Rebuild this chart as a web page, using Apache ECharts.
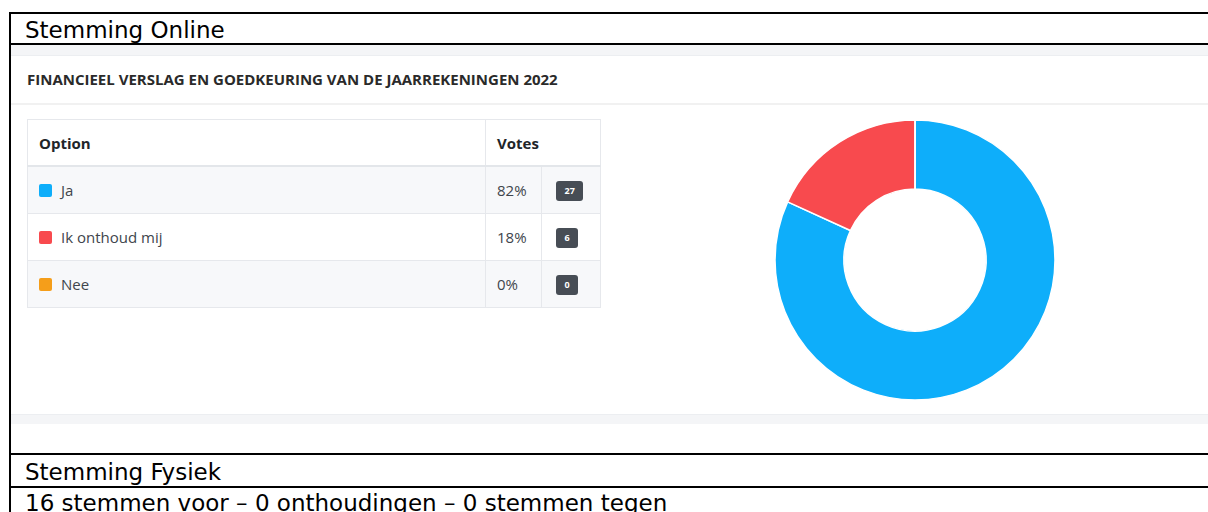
<!DOCTYPE html>
<html>
<head>
<meta charset="utf-8">
<script src="https://cdn.jsdelivr.net/npm/echarts@6/dist/echarts.min.js"></script>
<style>
  html, body { margin: 0; padding: 0; background: #fff; }
  body { width: 1208px; height: 512px; position: relative; overflow: hidden; }
  .doc { position: absolute; font-family: "DejaVu Sans", sans-serif; font-size: 23px; color: #000; white-space: nowrap; }
  .hline { position: absolute; left: 10px; right: 0; background: #000; }
  .vline { position: absolute; left: 9px; width: 2px; background: #000; }
  .strip { position: absolute; left: 11px; right: 0; background: #f4f5f7; }
  #title { position: absolute; left: 27px; top: 69px; font-family: "Open Sans", sans-serif; font-weight: 700;
           font-size: 15px; color: #2a2a2a; white-space: nowrap; }
  table { position: absolute; left: 27px; top: 119px; border-collapse: collapse; table-layout: fixed; width: 573px;
          font-family: "Open Sans", sans-serif; font-size: 15px; color: #40454c; }
  td, th { border: 1px solid #e6e8ec; padding: 0 0 0 11px; text-align: left; }
  th { height: 45px; font-weight: 700; color: #212529; border-bottom: 2px solid #e3e6ea; }
  td { height: 46px; }
  tr.odd td { background: #f7f8fa; }
  .sw { display: inline-block; width: 13px; height: 13px; border-radius: 2px; margin-right: 9px; vertical-align: -1px; }
  .badge { display: inline-block; background: #474d55; color: #fff; font-size: 9px; font-weight: 700;
           border-radius: 3px; height: 20px; line-height: 20px; padding: 0 8.5px; margin-left: 3px; vertical-align: middle; }
  #chart { position: absolute; left: 760px; top: 110px; width: 310px; height: 300px; }
</style>
</head>
<body>
  <div class="hline" style="top:12px;height:2px;"></div>
  <div class="vline" style="top:12px;height:500px;"></div>
  <div class="doc" style="left:25px;top:17px;">Stemming Online</div>
  <div class="hline" style="top:43px;height:2px;"></div>
  <div class="strip" style="top:45px;height:10px;border-bottom:1px solid #eceef1;"></div>
  <div id="title"></div>
  <div class="strip" style="top:103px;height:2px;background:#f1f1f1;"></div>
  <table id="tbl"></table>
  <div id="chart"></div>
  <div class="strip" style="top:414px;height:9px;border-top:1px solid #eceef1;"></div>
  <div class="hline" style="top:453px;height:2px;"></div>
  <div class="doc" style="left:25px;top:459px;">Stemming Fysiek</div>
  <div class="hline" style="top:486px;height:2px;"></div>
  <div class="doc" style="left:25px;top:490px;" id="fysiek"></div>

<script>
const pollTitle = 'FINANCIEEL VERSLAG EN GOEDKEURING VAN DE JAARREKENINGEN 2022';
const options = ['Ja', 'Ik onthoud mij', 'Nee'];
const votes = [27, 6, 0];
const percentLabels = ['82%', '18%', '0%'];
const colors = ['#0eaefa', '#f84a4e', '#f59e1a'];
const fysiekText = '16 stemmen voor \u2013 0 onthoudingen \u2013 0 stemmen tegen';

document.getElementById('title').textContent = pollTitle;
document.getElementById('fysiek').textContent = fysiekText;

// tabel met opties en stemmen
let html = '<colgroup><col style="width:458px"><col style="width:56px"><col style="width:59px"></colgroup>' +
  '<tr><th>Option</th><th colspan="2">Votes</th></tr>';
options.forEach((name, i) => {
  html += '<tr class="' + (i % 2 === 0 ? 'odd' : '') + '">' +
    '<td><span class="sw" style="background:' + colors[i] + '"></span>' + name + '</td>' +
    '<td>' + percentLabels[i] + '</td>' +
    '<td><span class="badge">' + votes[i] + '</span></td></tr>';
});
document.getElementById('tbl').innerHTML = html;

const chart = echarts.init(document.getElementById('chart'), null, { renderer: 'canvas' });
chart.setOption({
  animation: false,
  series: [{
    type: 'pie',
    center: [155, 150],
    radius: [71, 140],
    startAngle: 90,
    clockwise: true,
    label: { show: false },
    labelLine: { show: false },
    itemStyle: { borderColor: '#fff', borderWidth: 1.5 },
    data: options.map((name, i) => ({ name, value: votes[i], itemStyle: { color: colors[i] } }))
  }]
});
</script>
</body>
</html>
